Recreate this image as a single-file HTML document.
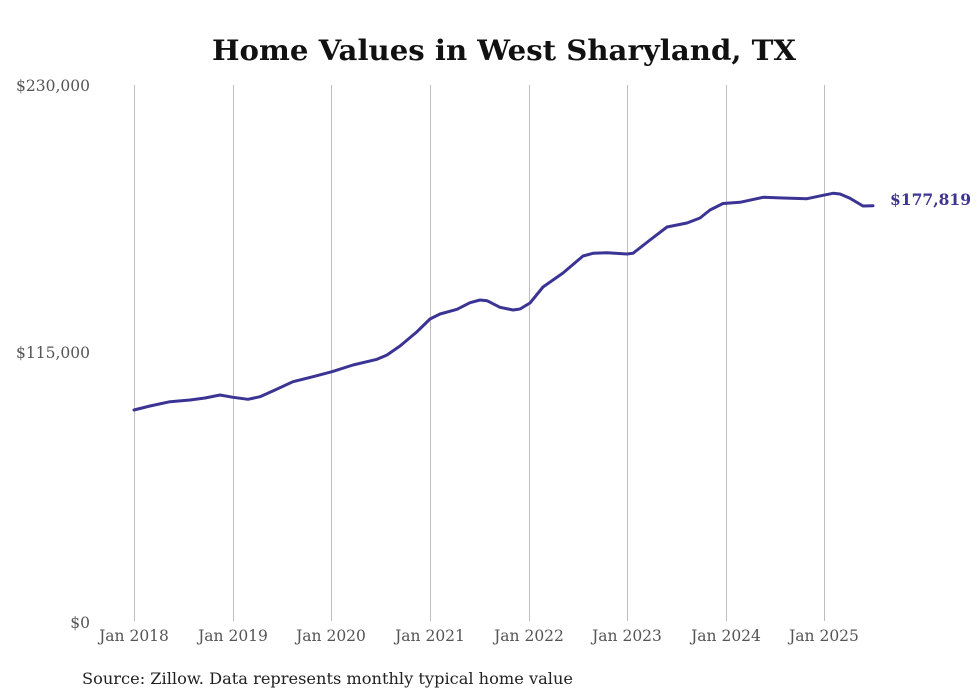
<!DOCTYPE html>
<html><head><meta charset="utf-8"><style>
html,body{margin:0;padding:0;background:#fff;}
svg{display:block;}
text{font-family:"DejaVu Serif","Liberation Serif",serif;}
</style></head><body>
<svg width="980" height="699" viewBox="0 0 980 699" xmlns="http://www.w3.org/2000/svg">
<rect width="980" height="699" fill="#fff"/>
<text x="504" y="60" text-anchor="middle" font-size="28" font-weight="bold" fill="#111" textLength="584" lengthAdjust="spacingAndGlyphs">Home Values in West Sharyland, TX</text>
<g stroke="#bdbdbd" stroke-width="1">
<line x1="134.5" y1="85" x2="134.5" y2="621"/>
<line x1="233.5" y1="85" x2="233.5" y2="621"/>
<line x1="331.5" y1="85" x2="331.5" y2="621"/>
<line x1="430.5" y1="85" x2="430.5" y2="621"/>
<line x1="529.5" y1="85" x2="529.5" y2="621"/>
<line x1="627.5" y1="85" x2="627.5" y2="621"/>
<line x1="726.5" y1="85" x2="726.5" y2="621"/>
<line x1="824.5" y1="85" x2="824.5" y2="621"/>
</g>
<g font-size="15.5" fill="#555" text-anchor="end">
<text x="90" y="91">$230,000</text>
<text x="90" y="358">$115,000</text>
<text x="90" y="628">$0</text>
</g>
<g font-size="15.5" fill="#555" text-anchor="middle">
<text x="134" y="641">Jan 2018</text>
<text x="233" y="641">Jan 2019</text>
<text x="331" y="641">Jan 2020</text>
<text x="430" y="641">Jan 2021</text>
<text x="529" y="641">Jan 2022</text>
<text x="627" y="641">Jan 2023</text>
<text x="726" y="641">Jan 2024</text>
<text x="824" y="641">Jan 2025</text>
</g>
<path fill="none" stroke="#3b3494" stroke-width="3" stroke-linejoin="round" stroke-linecap="round" d="M134,410 L150,406 L170,401.7 L190,400 L205,398 L220,395 L233,397.3 L248,399.3 L260,396.7 L275,390 L293,381.7 L313,376.7 L332,371.7 L353,365 L377,359.3 L387,355 L400,346 L416.7,332 L430,319 L440,314 L457,309.3 L470,302.7 L480,300 L487,300.7 L500,307.3 L513,310 L520,309 L530,303 L543,287 L563,273 L583,256 L593,253.3 L607,252.7 L627,254 L633,253.3 L650,240 L667,227 L687,223 L700,218 L710,210 L723,203.5 L740,202.3 L763,197.3 L783,198 L807,198.7 L823,195.3 L833,193.3 L840,194 L850,198.3 L863,206 L873,205.7"/>
<text x="890" y="205" font-size="16" font-weight="bold" fill="#3d3591" textLength="81" lengthAdjust="spacingAndGlyphs">$177,819</text>
<text x="82" y="684" font-size="16" fill="#222" textLength="491" lengthAdjust="spacingAndGlyphs">Source: Zillow. Data represents monthly typical home value</text>
</svg>
</body></html>
